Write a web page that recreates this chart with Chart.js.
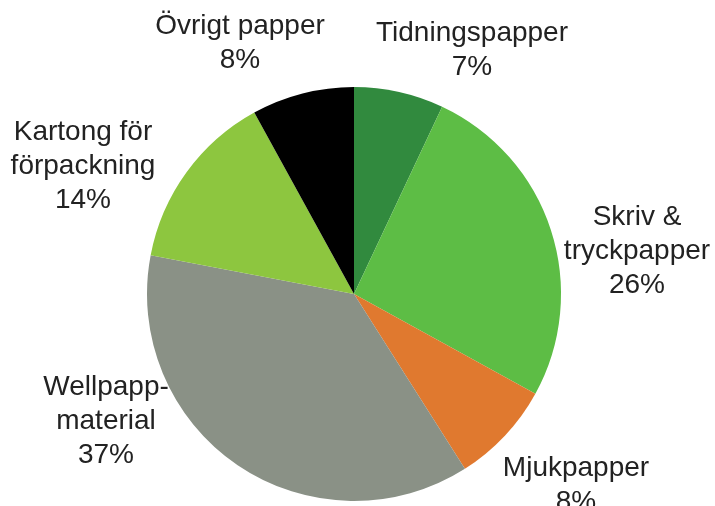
<!DOCTYPE html>
<html>
<head>
<meta charset="utf-8">
<script src="https://cdn.jsdelivr.net/npm/chart.js@4"></script>
<style>
  html, body { margin: 0; padding: 0; background: #fff; }
  canvas { display: block; }
</style>
</head>
<body>
<canvas id="chart" width="715" height="506"></canvas>
<script>
// data
const categories = [
  ['Tidningspapper'],
  ['Skriv &', 'tryckpapper'],
  ['Mjukpapper'],
  ['Wellpapp-', 'material'],
  ['Kartong för', 'förpackning'],
  ['Övrigt papper']
];
const shares = [7, 26, 8, 37, 14, 8];
const colors = ['#318a3e', '#5dbd45', '#e0792f', '#8a9186', '#8dc63f', '#000000'];
// where each label block sits, relative to the pie centre (px)
const labelOffsets = [[118, -244], [283, -43], [222, 191], [-248, 127], [-271, -128], [-114, -251]];

const outsideLabels = {
  id: 'outsideLabels',
  afterDraw(chart) {
    const ctx = chart.ctx;
    const arcs = chart.getDatasetMeta(0).data;
    const lineH = 34;
    ctx.save();
    ctx.font = '28px "Liberation Sans", Arial, sans-serif';
    ctx.fillStyle = '#222';
    ctx.textAlign = 'center';
    ctx.textBaseline = 'middle';
    arcs.forEach((arc, i) => {
      const lines = categories[i].concat([shares[i] + '%']);
      const cx = arc.x + labelOffsets[i][0];
      const cy = arc.y + labelOffsets[i][1];
      const top = cy - (lines.length - 1) * lineH / 2;
      lines.forEach((t, j) => ctx.fillText(t, cx, top + j * lineH));
    });
    ctx.restore();
  }
};

new Chart(document.getElementById('chart'), {
  type: 'pie',
  data: {
    labels: categories.map(c => c.join(' ')),
    datasets: [{
      data: shares,
      backgroundColor: colors,
      borderWidth: 0
    }]
  },
  options: {
    responsive: false,
    animation: false,
    layout: { padding: { top: 87, bottom: 5, left: 147, right: 154 } },
    plugins: {
      legend: { display: false },
      tooltip: { enabled: false }
    }
  },
  plugins: [outsideLabels]
});
</script>
</body>
</html>
